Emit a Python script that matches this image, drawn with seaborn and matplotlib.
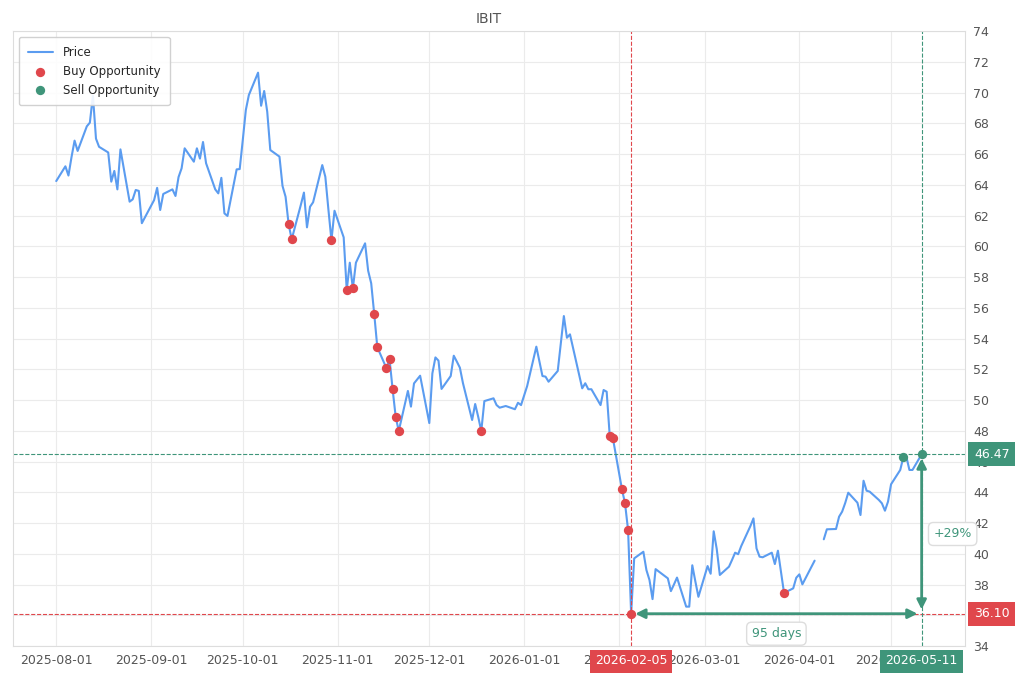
import numpy as np
import pandas as pd
import matplotlib
matplotlib.use('Agg')
import matplotlib.pyplot as plt
import matplotlib.dates as mdates
import seaborn as sns

# Datos (precio de cierre diario)
fechas = [
    '2025-08-01', '2025-08-04', '2025-08-05', '2025-08-06', '2025-08-07', '2025-08-08',
    '2025-08-11', '2025-08-12', '2025-08-13', '2025-08-14', '2025-08-15',
    '2025-08-18', '2025-08-19', '2025-08-20', '2025-08-21', '2025-08-22',
    '2025-08-25', '2025-08-26', '2025-08-27', '2025-08-28', '2025-08-29',
    '2025-09-02', '2025-09-03', '2025-09-04', '2025-09-05',
    '2025-09-08', '2025-09-09', '2025-09-10', '2025-09-11', '2025-09-12',
    '2025-09-15', '2025-09-16', '2025-09-17', '2025-09-18', '2025-09-19',
    '2025-09-22', '2025-09-23', '2025-09-24', '2025-09-25', '2025-09-26',
    '2025-09-29', '2025-09-30', '2025-10-01', '2025-10-02', '2025-10-03',
    '2025-10-06', '2025-10-07', '2025-10-08', '2025-10-09', '2025-10-10',
    '2025-10-13', '2025-10-14', '2025-10-15', '2025-10-16', '2025-10-17',
    '2025-10-20', '2025-10-21', '2025-10-22', '2025-10-23', '2025-10-24',
    '2025-10-27', '2025-10-28', '2025-10-29', '2025-10-30', '2025-10-31',
    '2025-11-03', '2025-11-04', '2025-11-05', '2025-11-06', '2025-11-07',
    '2025-11-10', '2025-11-11', '2025-11-12', '2025-11-13', '2025-11-14',
    '2025-11-17', '2025-11-18', '2025-11-19', '2025-11-20', '2025-11-21',
    '2025-11-24', '2025-11-25', '2025-11-26', '2025-11-28',
    '2025-12-01', '2025-12-02', '2025-12-03', '2025-12-04', '2025-12-05',
    '2025-12-08', '2025-12-09', '2025-12-10', '2025-12-11', '2025-12-12',
    '2025-12-15', '2025-12-16', '2025-12-17', '2025-12-18', '2025-12-19',
    '2025-12-22', '2025-12-23', '2025-12-24', '2025-12-26',
    '2025-12-29', '2025-12-30', '2025-12-31', '2026-01-02',
    '2026-01-05', '2026-01-06', '2026-01-07', '2026-01-08', '2026-01-09',
    '2026-01-12', '2026-01-13', '2026-01-14', '2026-01-15', '2026-01-16',
    '2026-01-20', '2026-01-21', '2026-01-22', '2026-01-23',
    '2026-01-26', '2026-01-27', '2026-01-28', '2026-01-29', '2026-01-30',
    '2026-02-02', '2026-02-03', '2026-02-04', '2026-02-05', '2026-02-06',
    '2026-02-09', '2026-02-10', '2026-02-11', '2026-02-12', '2026-02-13',
    '2026-02-17', '2026-02-18', '2026-02-19', '2026-02-20',
    '2026-02-23', '2026-02-24', '2026-02-25', '2026-02-26', '2026-02-27',
    '2026-03-02', '2026-03-03', '2026-03-04', '2026-03-05', '2026-03-06',
    '2026-03-09', '2026-03-10', '2026-03-11', '2026-03-12', '2026-03-13',
    '2026-03-16', '2026-03-17', '2026-03-18', '2026-03-19', '2026-03-20',
    '2026-03-23', '2026-03-24', '2026-03-25', '2026-03-26', '2026-03-27',
    '2026-03-30', '2026-03-31', '2026-04-01', '2026-04-02',
    '2026-04-06', '2026-04-07', '2026-04-08', '2026-04-09', '2026-04-10',
    '2026-04-13', '2026-04-14', '2026-04-15', '2026-04-16', '2026-04-17',
    '2026-04-20', '2026-04-21', '2026-04-22', '2026-04-23', '2026-04-24',
    '2026-04-27', '2026-04-28', '2026-04-29', '2026-04-30', '2026-05-01',
    '2026-05-04', '2026-05-05', '2026-05-06', '2026-05-07', '2026-05-08',
    '2026-05-11',
]
precios = [
    64.24, 65.2, 64.6, 65.8, 66.87, 66.2,
    67.8, 68.04, 69.8, 67.0, 66.47,
    66.1, 64.2, 64.9, 63.7, 66.3,
    62.9, 63.05, 63.66, 63.6, 61.5,
    63.0, 63.8, 62.36, 63.4,
    63.7, 63.27, 64.5, 65.07, 66.37,
    65.5, 66.37, 65.7, 66.78, 65.4,
    63.7, 63.44, 64.45, 62.14, 61.97,
    65.0, 65.02, 66.9, 68.86, 69.84,
    71.29, 69.14, 70.1, 68.75, 66.26,
    65.83, 63.92, 63.22, 61.43, 60.45,
    62.7, 63.49, 61.23, 62.57, 62.86,
    65.28, 64.52, 62.4, 60.39, 62.31,
    60.58, 57.15, 58.93, 57.26, 58.93,
    60.19, 58.41, 57.59, 55.57, 53.43,
    52.06, 52.65, 50.7, 48.92, 47.98,
    50.59, 49.57, 51.08, 51.58,
    48.5, 51.73, 52.77, 52.56, 50.72,
    51.56, 52.88, 52.5, 52.1, 51.1,
    48.7, 49.74, 48.9, 47.98, 49.93,
    50.11, 49.67, 49.5, 49.61,
    49.4, 49.82, 49.67, 50.91,
    53.47, 52.5, 51.56, 51.52, 51.19,
    51.89, 53.7, 55.46, 54.05, 54.27,
    50.76, 51.09, 50.7, 50.7,
    49.67, 50.65, 50.54, 47.66, 47.55,
    44.19, 43.28, 41.54, 36.10, 39.7,
    40.13, 38.94, 38.29, 37.05, 39.0,
    38.4, 37.57, 38.0, 38.45,
    36.56, 36.56, 39.25, 38.2, 37.2,
    39.2, 38.7, 41.46, 40.3, 38.62,
    39.16, 39.6, 40.07, 39.97, 40.5,
    41.8, 42.3, 40.35, 39.81, 39.77,
    40.07, 39.33, 40.2, 38.8, 37.45,
    37.75, 38.44, 38.66, 38.01,
    39.55, np.nan, np.nan, 40.94, 41.59,
    41.61, 42.41, 42.74, 43.3, 43.97,
    43.32, 42.52, 44.75, 44.1, 44.04,
    43.5, 43.28, 42.8, 43.39, 44.52,
    45.45, 46.27, 46.31, 45.45, 45.45,
    46.47,
]

fechas_compra = [
    '2025-10-16', '2025-10-17', '2025-10-30', '2025-11-04', '2025-11-06',
    '2025-11-13', '2025-11-14', '2025-11-17', '2025-11-18', '2025-11-19',
    '2025-11-20', '2025-11-21', '2025-12-18', '2026-01-29', '2026-01-30',
    '2026-02-02', '2026-02-03', '2026-02-04', '2026-02-05', '2026-03-27',
]
fechas_venta = ['2026-05-05', '2026-05-11']

fecha_min = '2026-02-05'
fecha_max = '2026-05-11'

azul = '#5b9cf0'
rojo = '#e0474c'
verde = '#3f957a'
gris = '#555555'

df = pd.DataFrame({'fecha': pd.to_datetime(fechas), 'precio': precios})
# Los huecos (NaN) parten la linea en tramos
df['tramo'] = df['precio'].isna().cumsum()
df_lineas = df.dropna()

compras = df[df['fecha'].isin(pd.to_datetime(fechas_compra))]
ventas = df[df['fecha'].isin(pd.to_datetime(fechas_venta))]

f_min = pd.Timestamp(fecha_min)
f_max = pd.Timestamp(fecha_max)
p_min = df.loc[df['fecha'] == f_min, 'precio'].iloc[0]
p_max = df.loc[df['fecha'] == f_max, 'precio'].iloc[0]
dias = (f_max - f_min).days
cambio = (p_max / p_min - 1) * 100

sns.set_style('whitegrid', {'grid.color': '#ebebeb', 'axes.edgecolor': '#dddddd'})
plt.rcParams['font.family'] = ['DejaVu Sans']

fig = plt.figure(figsize=(10.2, 6.8), dpi=100)
ax = fig.add_axes([0.0127, 0.05, 0.9333, 0.9044])

primero = True
for _, sub in df_lineas.groupby('tramo'):
    sns.lineplot(data=sub, x='fecha', y='precio', ax=ax, color=azul, linewidth=1.5,
                 label='Price' if primero else None, legend=False)
    primero = False

sns.scatterplot(data=compras, x='fecha', y='precio', ax=ax, color=rojo, s=45,
                edgecolor=rojo, linewidth=0, label='Buy Opportunity', zorder=4)
sns.scatterplot(data=ventas, x='fecha', y='precio', ax=ax, color=verde, s=45,
                edgecolor=verde, linewidth=0, label='Sell Opportunity', zorder=4)

# Lineas de referencia
ax.axvline(f_min, color=rojo, linestyle='--', linewidth=0.8, zorder=2)
ax.axhline(p_min, color=rojo, linestyle='--', linewidth=0.8, zorder=2)
ax.axvline(f_max, color=verde, linestyle='--', linewidth=0.8, zorder=2)
ax.axhline(p_max, color=verde, linestyle='--', linewidth=0.8, zorder=2)

# Flechas de dias y de porcentaje
ax.annotate('', xy=(f_max, p_min), xytext=(f_min, p_min),
            arrowprops=dict(arrowstyle='<|-|>', color=verde, lw=2, mutation_scale=14,
                            shrinkA=3, shrinkB=3), zorder=3)
ax.annotate('', xy=(f_max, p_max), xytext=(f_max, p_min),
            arrowprops=dict(arrowstyle='<|-|>', color=verde, lw=2, mutation_scale=14,
                            shrinkA=3, shrinkB=3), zorder=3)

caja_blanca = dict(boxstyle='round,pad=0.4', facecolor='white', edgecolor='#dddddd')
ax.annotate(f'{dias} days', xy=(f_min + (f_max - f_min) / 2, p_min), xytext=(0, -20),
            textcoords='offset pixels', ha='center', va='center', color=verde,
            fontsize=9, bbox=caja_blanca, zorder=6)
ax.annotate(f'+{cambio:.0f}%', xy=(f_max, (p_min + p_max) / 2), xytext=(31, 0),
            textcoords='offset pixels', ha='center', va='center', color=verde,
            fontsize=9, bbox=caja_blanca, zorder=6, annotation_clip=False)

# Etiquetas de valor en el eje derecho
for valor, color in [(p_max, verde), (p_min, rojo)]:
    ax.annotate(f'{valor:.2f}', xy=(1, valor), xycoords=('axes fraction', 'data'),
                xytext=(9, 0), textcoords='offset pixels', ha='left', va='center',
                color='white', fontsize=9,
                bbox=dict(boxstyle='square,pad=0.45', facecolor=color, edgecolor='none'),
                annotation_clip=False, zorder=7)

# Etiquetas de fecha en el eje inferior
for fecha, color in [(f_min, rojo), (f_max, verde)]:
    ax.annotate(fecha.strftime('%Y-%m-%d'), xy=(fecha, 0), xycoords=('data', 'axes fraction'),
                xytext=(0, -15), textcoords='offset pixels', ha='center', va='center',
                color='white', fontsize=9,
                bbox=dict(boxstyle='square,pad=0.4', facecolor=color, edgecolor='none'),
                annotation_clip=False, zorder=7)

# Ejes
ax.set_ylim(34, 74)
ax.set_yticks(range(34, 75, 2))
ax.yaxis.tick_right()
ax.xaxis.set_major_locator(mdates.MonthLocator())
ax.xaxis.set_major_formatter(mdates.DateFormatter('%Y-%m-%d'))
ax.tick_params(axis='both', labelsize=9, labelcolor=gris, length=0, pad=6)
ax.set_xlabel('')
ax.set_ylabel('')
ax.set_title('IBIT', color=gris, fontsize=10)

ax.legend(loc='upper left', fontsize=8.5, frameon=True, facecolor='white',
          edgecolor='#cccccc', framealpha=0.9, borderpad=0.75, handlelength=2.1,
          handletextpad=0.9)

plt.savefig('out.png', dpi=100)
